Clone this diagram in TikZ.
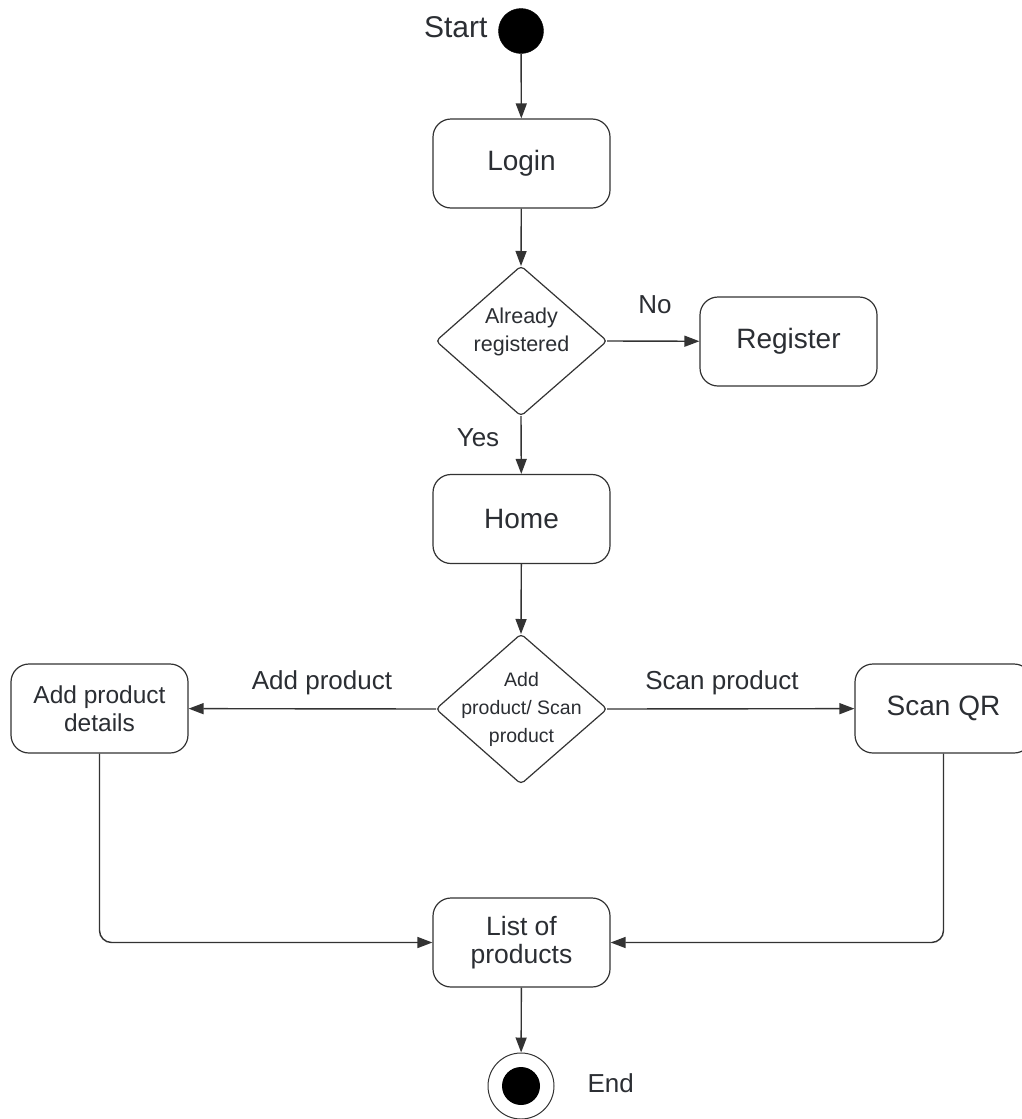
\documentclass[tikz,border=0pt]{standalone}
\usepackage{fontspec}
\setmainfont{Liberation Sans}
\usetikzlibrary{arrows.meta}
\definecolor{ink}{HTML}{333333}
\definecolor{txt}{HTML}{2B2E33}
\begin{document}
\begin{tikzpicture}[x=1pt,y=-1pt,
  every node/.style={text=txt},
  act/.style={draw=ink,line width=1.2pt,rounded corners=18pt,
    minimum width=177pt,minimum height=89pt,inner sep=0pt,align=center,
    font=\fontsize{28}{30}\selectfont},
  decision/.style={draw=ink,line width=1.2pt,rounded corners=4pt},
  dtext/.style={align=center,font=\fontsize{21.5}{28}\selectfont},
  lbl/.style={font=\fontsize{26}{30}\selectfont},
  flow/.style={draw=ink,line width=1.4pt,-{Triangle[length=15pt,width=11pt]}},
  joinline/.style={flow,rounded corners=12pt}]
\clip (0,0) rectangle (1022,1119);
\fill[white] (0,0) rectangle (1022,1119);

% initial state
\node[circle,fill=black,draw=black,minimum size=45pt,inner sep=0pt] (start) at (521,31) {};
\node[anchor=east,font=\fontsize{30}{34}\selectfont] (startlbl) at (491,27) {Start};

% activities
\node[act] (login) at (521.5,163.5) {Login};
\node[act] (register) at (788.5,341.5) {Register};
\node[act] (home) at (521.5,519) {Home};
\node[act,font=\fontsize{24.5}{28}\selectfont] (details) at (99.5,708.5) {Add product\\details};
\node[act] (scan) at (943.5,708.5) {Scan QR};
\node[act,font=\fontsize{26.5}{28.5}\selectfont] (list) at (521.5,942.5) {List of\\products};

% decisions
\draw[decision] (521,266) -- (607,341) -- (521,416) -- (436,341) -- cycle;
\coordinate (d1n) at (521,266); \coordinate (d1s) at (521,416);
\coordinate (d1e) at (607,341); \coordinate (d1w) at (436,341);
\node[dtext] (d1) at (521.5,332) {Already\\registered};

\draw[decision] (521,634) -- (607,709) -- (521,784) -- (436,709) -- cycle;
\coordinate (d2n) at (521,634); \coordinate (d2s) at (521,784);
\coordinate (d2e) at (607,709); \coordinate (d2w) at (436,709);
\node[dtext,font=\fontsize{19.5}{28}\selectfont] (d2) at (521.5,709) {Add\\product/ Scan\\product};

% final state
\node[circle,draw=ink,line width=1pt,minimum size=66pt,inner sep=0pt] (final) at (521,1086) {};
\node[circle,fill=black,minimum size=38pt,inner sep=0pt] (finaldot) at (521,1086) {};
\node[anchor=west,lbl] (endlbl) at (584,1083) {End};

% flows
\draw[flow] (start) -- (login);
\draw[flow] (login) -- (d1n);
\draw[flow] (d1e) -- (register);
\node[lbl] (no) at (655,305) {No};
\draw[flow] (d1s) -- (home);
\node[lbl] (yes) at (478,438) {Yes};
\draw[flow] (home) -- (d2n);
\draw[flow] (d2w) -- (details);
\node[lbl] (addlbl) at (322,683) {Add product};
\draw[flow] (d2e) -- (scan);
\node[lbl] (scanlbl) at (722,683) {Scan product};
\draw[joinline] (details.south) |- (list.west);
\draw[joinline] (scan.south) |- (list.east);
\draw[flow] (list) -- (final);
\end{tikzpicture}
\end{document}
